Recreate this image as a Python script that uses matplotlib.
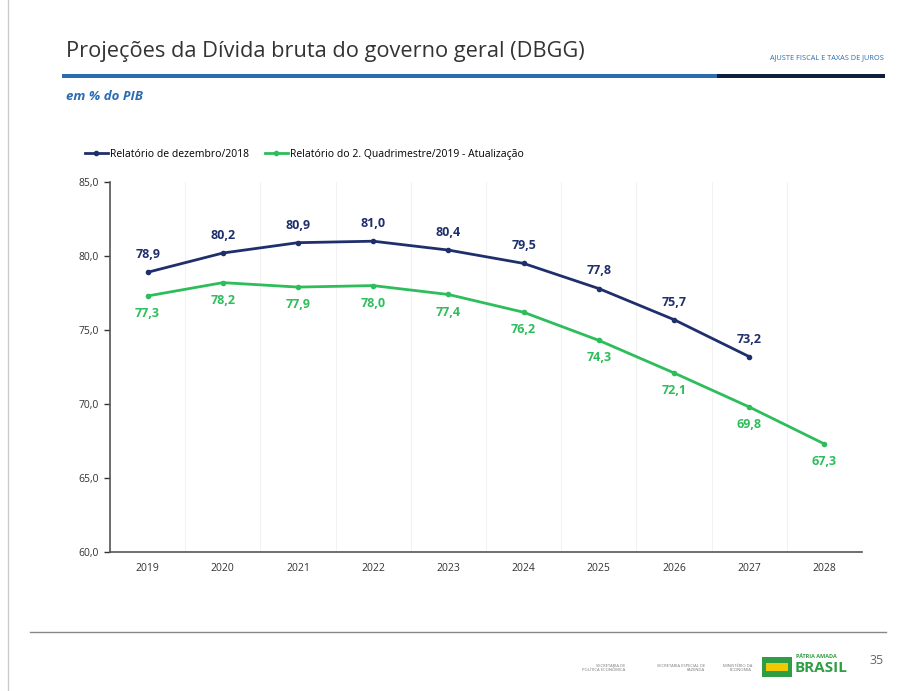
import numpy as np
import matplotlib.pyplot as plt
from matplotlib.patches import Rectangle

years = ["2019", "2020", "2021", "2022", "2023", "2024", "2025", "2026", "2027", "2028"]
dez_2018 = [78.9, 80.2, 80.9, 81.0, 80.4, 79.5, 77.8, 75.7, 73.2]
quad_2019 = [77.3, 78.2, 77.9, 78.0, 77.4, 76.2, 74.3, 72.1, 69.8, 67.3]
yticks = [60, 65, 70, 75, 80, 85]

navy = "#1f2f6b"
green = "#2dbd5a"
blue = "#2a6cb3"

plt.rcParams['font.family'] = ['Open Sans', 'DejaVu Sans']

W, H = 908, 691
fig = plt.figure(figsize=(W / 100, H / 100), dpi=100)

def fx(px):
    return px / W

def fy(py):
    return 1 - py / H

# header
fig.text(fx(66), fy(51), "Projeções da Dívida bruta do governo geral (DBGG)",
         fontsize=15.7, color="#333333", va="center", ha="left")
fig.text(fx(884), fy(58), "AJUSTE FISCAL E TAXAS DE JUROS", fontsize=5.3,
         color=blue, va="center", ha="right")
fig.add_artist(Rectangle((fx(62), fy(78)), fx(655), 4 / H, transform=fig.transFigure,
                         color=blue, lw=0))
fig.add_artist(Rectangle((fx(717), fy(78)), fx(168), 4 / H, transform=fig.transFigure,
                         color="#0f1e3c", lw=0))
fig.text(fx(66), fy(97), "em % do PIB", fontsize=9.5, color=blue, style="italic",
         weight="bold", va="center", ha="left")

# slide borders
fig.add_artist(plt.Line2D([fx(8), fx(8)], [fy(0), fy(691)], transform=fig.transFigure,
                          color="#cccccc", lw=1))
fig.add_artist(plt.Line2D([fx(30), fx(886)], [fy(632), fy(632)], transform=fig.transFigure,
                          color="#888888", lw=1))

# footer
fig.text(fx(625), fy(668), "SECRETARIA DE\nPOLÍTICA ECONÔMICA", fontsize=3, color="#777777",
         ha="right", va="center")
fig.text(fx(705), fy(668), "SECRETARIA ESPECIAL DE\nFAZENDA", fontsize=3, color="#777777",
         ha="right", va="center")
fig.text(fx(752), fy(668), "MINISTÉRIO DA\nECONOMIA", fontsize=3, color="#777777",
         ha="right", va="center")
fig.add_artist(Rectangle((fx(762), fy(677)), fx(30), 20 / H, transform=fig.transFigure,
                         color="#2e9e45", lw=0))
fig.add_artist(Rectangle((fx(766), fy(671)), fx(22), 8 / H, transform=fig.transFigure,
                         color="#f2c900", lw=0))
fig.text(fx(796), fy(657), "PÁTRIA AMADA", fontsize=4, color="#2e9e45", weight="bold",
         ha="left", va="center")
fig.text(fx(795), fy(668), "BRASIL", fontsize=11, color="#2e9e45", weight="bold",
         ha="left", va="center")
fig.text(fx(870), fy(660), "35", fontsize=9, color="#666666", ha="left", va="center")

# chart
ax = fig.add_axes([fx(110), fy(552), fx(862 - 110), (552 - 182) / H])
x = np.arange(len(years))
ax.plot(x[:len(dez_2018)], dez_2018, color=navy, lw=2, marker="o", ms=3,
        label="Relatório de dezembro/2018")
ax.plot(x, quad_2019, color=green, lw=2, marker="o", ms=3,
        label="Relatório do 2. Quadrimestre/2019 - Atualização")

for i, v in enumerate(dez_2018):
    ax.annotate(f"{v:.1f}".replace(".", ","), (x[i], v), xytext=(0, 8),
                textcoords="offset points", ha="center", va="bottom",
                color=navy, fontsize=9, weight="bold")
for i, v in enumerate(quad_2019):
    ax.annotate(f"{v:.1f}".replace(".", ","), (x[i], v), xytext=(0, -8),
                textcoords="offset points", ha="center", va="top",
                color=green, fontsize=9, weight="bold")

ax.set_xlim(-0.5, len(years) - 0.5)
ax.set_ylim(60, 85)
ax.set_xticks(x)
ax.set_xticklabels(years)
ax.set_yticks(yticks)
ax.set_yticklabels([f"{t:.1f}".replace(".", ",") for t in yticks])
ax.tick_params(axis="both", labelsize=7.5, colors="#333333", length=4, width=1)
ax.tick_params(axis="x", length=0, pad=8)
ax.tick_params(axis="y", pad=4)
for b in np.arange(0.5, len(years) - 0.5):
    ax.axvline(b, color="#f2f2f2", lw=0.8, zorder=0)
for s in ["top", "right"]:
    ax.spines[s].set_visible(False)
for s in ["left", "bottom"]:
    ax.spines[s].set_color("#555555")
    ax.spines[s].set_linewidth(1.2)

ax.legend(loc="lower left", bbox_to_anchor=(fx(85), fy(160)), bbox_transform=fig.transFigure,
          ncol=2, frameon=False, fontsize=7.5, handlelength=2.2, handletextpad=0.2,
          columnspacing=1.5, borderaxespad=0, borderpad=0)

fig.savefig("out.png", dpi=100)
